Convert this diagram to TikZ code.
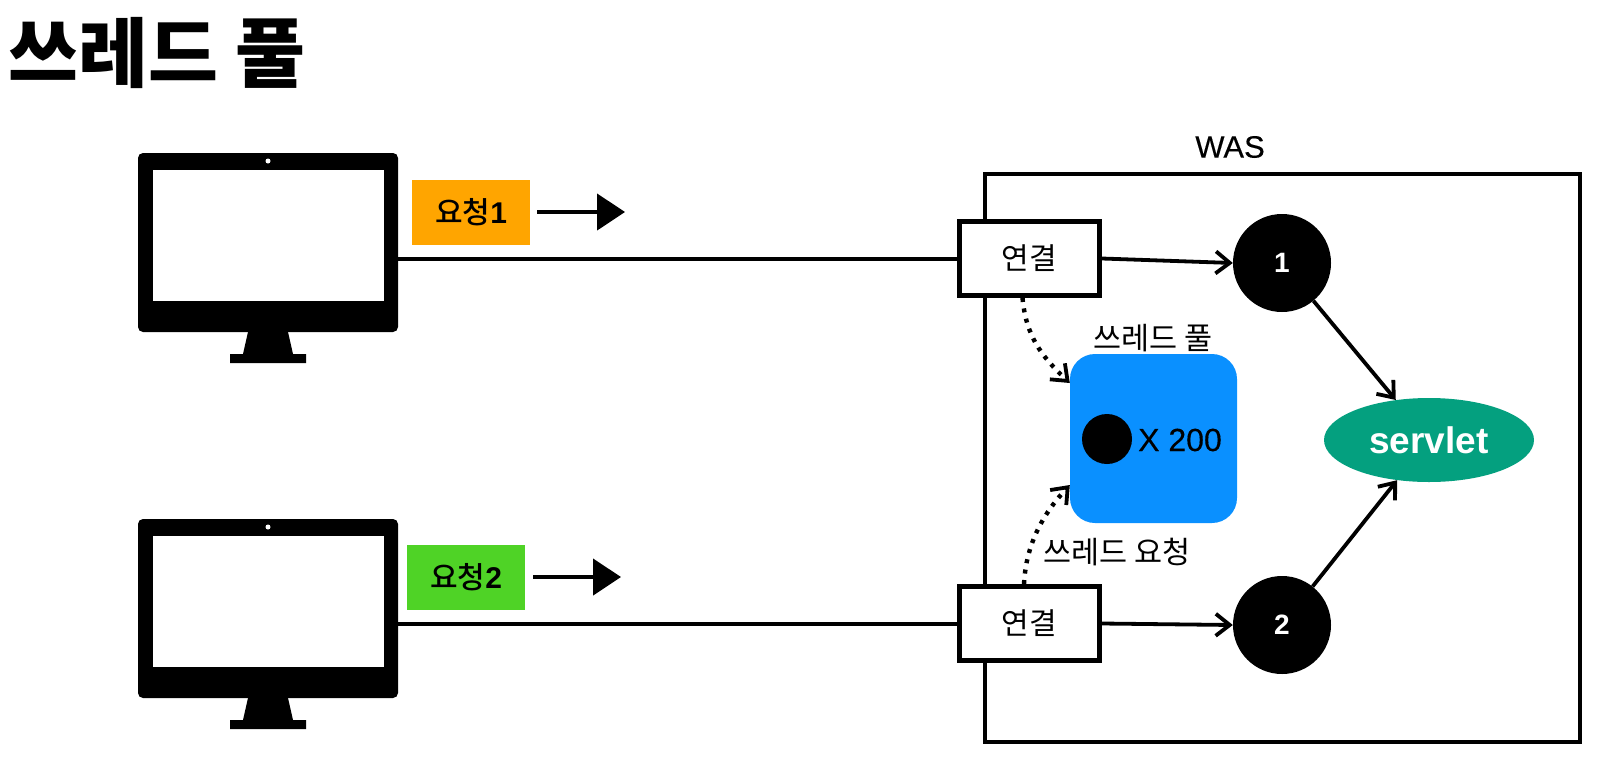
\documentclass[tikz,border=0pt]{standalone}
\usepackage{fontspec}
\setmainfont{Liberation Sans}
\newfontfamily\krfont{Noto Sans CJK KR}
\newfontfamily\krmed{Noto Sans CJK KR Medium}
\newfontfamily\latmed[FakeBold=0.25]{Liberation Sans}
\usetikzlibrary{arrows.meta,shapes.geometric}
\newcommand{\fsz}[1]{\fontsize{#1}{#1}\selectfont}
\definecolor{blueb}{HTML}{0A90FF}
\definecolor{teal1}{HTML}{04A07F}
\definecolor{orange1}{HTML}{FFA500}
\definecolor{green1}{HTML}{4FD326}
\tikzset{
  x=1pt,y=-1pt,
  link/.style={line width=3.8pt,-{Straight Barb[length=14pt,width=22pt,line width=3.8pt]}},
  plain/.style={line width=4pt},
  dots/.style={line width=4.4pt,dash pattern=on 4pt off 6.5pt,-{Straight Barb[length=14pt,width=22pt,line width=3.8pt]}},
  req/.style={line width=4.4pt,-{Triangle[length=28pt,width=36pt]}},
  pcbody/.style={fill=black,rounded corners=5pt,minimum width=260pt,minimum height=179pt,inner sep=0pt},
  pcscreen/.style={fill=white,minimum width=231pt,minimum height=131pt,inner sep=0pt},
  reqbox/.style={minimum width=118pt,minimum height=65pt,inner sep=0pt,font=\krmed\fsz{30}},
  conn/.style={draw=black,fill=white,line width=5pt,minimum width=140pt,minimum height=74pt,inner sep=0pt,font=\krfont\fsz{30}},
  num/.style={circle,fill=black,minimum size=98pt,inner sep=0pt,text=white,font=\fsz{28}\bfseries},
  lbl/.style={font=\krfont\fsz{30.5},inner sep=0pt},
}
\begin{document}
\begin{tikzpicture}
\useasboundingbox (0,0) rectangle (1597,758);
\node[font=\krfont\fsz{76}\bfseries,inner sep=0pt] (title) at (157,53) {쓰레드 풀};
% monitors
\foreach \n/\dy in {1/0,2/366}{
  \fill (248,332+\dy) -- (288,332+\dy) -- (293,354+\dy) -- (306,354+\dy) -- (306,363+\dy) -- (230,363+\dy) -- (230,354+\dy) -- (243,354+\dy) -- cycle;
  \node[pcbody] (pc\n) at (268,242.5+\dy) {};
  \node[pcscreen] (scr\n) at (268,235.5+\dy) {};
  \fill[white] (268,161+\dy) circle (2.5);
}
% WAS
\node[draw=black,line width=4.6pt,minimum width=595pt,minimum height=568pt,inner sep=0pt] (was) at (1282.5,458) {};
\node[font=\latmed\fsz{31},inner sep=0pt] (waslabel) at (1230,147) {WAS};
% request labels
\node[reqbox,fill=orange1] (r1) at (471,212.5) {요청{\fontspec{Liberation Sans Bold}1}};
\node[reqbox,fill=green1] (r2) at (466,577) {요청{\fontspec{Liberation Sans Bold}2}};
\coordinate (r1s) at (537,212);
\coordinate (r1e) at (625,212);
\coordinate (r2s) at (533,577);
\coordinate (r2e) at (621,577);
\draw[req] (r1s) -- (r1e);
\draw[req] (r2s) -- (r2e);
% connection boxes
\node[conn] (c1) at (1029.5,258.5) {연결};
\node[conn] (c2) at (1029.5,623.5) {연결};
\draw[plain] (pc1.east |- c1.west) -- (c1.west);
\draw[plain] (pc2.east |- c2.west) -- (c2.west);
% pool
\node[lbl] (pooltxt) at (1153,338) {쓰레드 풀};
\node[fill=blueb,rounded corners=25pt,minimum width=167pt,minimum height=169pt,inner sep=0pt] (pool) at (1153.5,438.5) {};
\node[circle,fill=black,minimum size=50pt,inner sep=0pt] (dot) at (1107,439) {};
\node[font=\latmed\fsz{32},inner sep=0pt] (xn) at (1180,440) {X 200};
\node[lbl] (reqtxt) at (1117,552) {쓰레드 요청};
% workers
\node[num] (n1) at (1282,263) {1};
\node[num] (n2) at (1282,625) {2};
\node[ellipse,fill=teal1,minimum width=210pt,minimum height=84pt,inner sep=0pt,text=white,font=\fsz{37}\bfseries] (sv) at (1429,440) {servlet};
\draw[link] (c1.east) -- (n1.west);
\draw[link] (c2.east) -- (n2.west);
\draw[link] (n1) -- (sv);
\draw[link] (n2) -- (sv);
\coordinate (p1) at ([xshift=-7pt]c1.south);
\coordinate (p2) at ([xshift=-5.5pt]c2.north);
\coordinate (t1) at (pool.west |- 0,383);
\coordinate (t2) at (pool.west |- 0,485);
\draw[dots] (p1) .. controls (1026,335) and (1040,355) .. (t1);
\draw[dots] (p2) .. controls (1026,545) and (1042,515) .. (t2);
\end{tikzpicture}
\end{document}
